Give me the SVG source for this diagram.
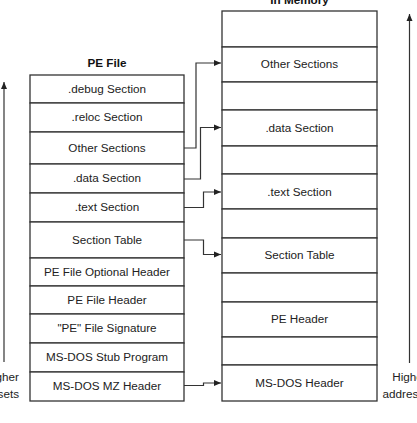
<svg xmlns="http://www.w3.org/2000/svg" width="417" height="423" viewBox="0 0 417 423">
<defs>
<style>
.box{fill:#fff;stroke:#333;stroke-width:1.3}
.t{font-family:"Liberation Sans",Arial,sans-serif;font-size:11.7px;fill:#222;text-anchor:middle}
.title{font-family:"Liberation Sans",Arial,sans-serif;font-size:11.7px;font-weight:bold;fill:#111;text-anchor:middle}
.c{fill:none;stroke:#333;stroke-width:1.2}
</style>
<marker id="ah" markerWidth="8" markerHeight="8" refX="7" refY="4" orient="auto" markerUnits="userSpaceOnUse">
<path d="M0,1 L7,4 L0,7 Z" fill="#222"/>
</marker>
</defs>
<rect width="417" height="423" fill="#fff"/>
<text class="title" x="107" y="67">PE File</text>
<text class="title" x="299.5" y="4">In Memory</text>
<g id="pe-file">
<g id="l-debug"><rect class="box" x="30" y="75" width="154" height="28"/><text class="t" x="107" y="92.5">.debug Section</text></g>
<g id="l-reloc"><rect class="box" x="30" y="103" width="154" height="29"/><text class="t" x="107" y="121">.reloc Section</text></g>
<g id="l-other"><rect class="box" x="30" y="132" width="154" height="32"/><text class="t" x="107" y="151.5">Other Sections</text></g>
<g id="l-data"><rect class="box" x="30" y="164" width="154" height="29"/><text class="t" x="107" y="182">.data Section</text></g>
<g id="l-text"><rect class="box" x="30" y="193" width="154" height="29"/><text class="t" x="107" y="211">.text Section</text></g>
<g id="l-sectab"><rect class="box" x="30" y="222" width="154" height="36"/><text class="t" x="107" y="243.5">Section Table</text></g>
<g id="l-opt"><rect class="box" x="30" y="258" width="154" height="28"/><text class="t" x="107" y="275.5">PE File Optional Header</text></g>
<g id="l-pehdr"><rect class="box" x="30" y="286" width="154" height="28"/><text class="t" x="107" y="303.5">PE File Header</text></g>
<g id="l-sig"><rect class="box" x="30" y="314" width="154" height="29"/><text class="t" x="107" y="332">"PE" File Signature</text></g>
<g id="l-stub"><rect class="box" x="30" y="343" width="154" height="29"/><text class="t" x="107" y="361">MS-DOS Stub Program</text></g>
<g id="l-mz"><rect class="box" x="30" y="372" width="154" height="29"/><text class="t" x="107" y="390">MS-DOS MZ Header</text></g>
</g>
<g id="in-memory">
<g id="r-e1"><rect class="box" x="222" y="11" width="155" height="36"/></g>
<g id="r-other"><rect class="box" x="222" y="47" width="155" height="35"/><text class="t" x="299.5" y="68">Other Sections</text></g>
<g id="r-e2"><rect class="box" x="222" y="82" width="155" height="28"/></g>
<g id="r-data"><rect class="box" x="222" y="110" width="155" height="36"/><text class="t" x="299.5" y="131.5">.data Section</text></g>
<g id="r-e3"><rect class="box" x="222" y="146" width="155" height="28"/></g>
<g id="r-text"><rect class="box" x="222" y="174" width="155" height="35"/><text class="t" x="299.5" y="195.5">.text Section</text></g>
<g id="r-e4"><rect class="box" x="222" y="209" width="155" height="29"/></g>
<g id="r-sectab"><rect class="box" x="222" y="238" width="155" height="35"/><text class="t" x="299.5" y="259">Section Table</text></g>
<g id="r-e5"><rect class="box" x="222" y="273" width="155" height="29"/></g>
<g id="r-pehdr"><rect class="box" x="222" y="302" width="155" height="35"/><text class="t" x="299.5" y="323">PE Header</text></g>
<g id="r-e6"><rect class="box" x="222" y="337" width="155" height="28"/></g>
<g id="r-mz"><rect class="box" x="222" y="365" width="155" height="36"/><text class="t" x="299.5" y="386.5">MS-DOS Header</text></g>
</g>
<g id="connectors">
<path class="c" d="M184,148 H196 V63 H221" marker-end="url(#ah)"/>
<path class="c" d="M184,179 H200.5 V127.5 H221" marker-end="url(#ah)"/>
<path class="c" d="M184,207.5 H203.5 V192 H221" marker-end="url(#ah)"/>
<path class="c" d="M184,240 H203.5 V254.5 H221" marker-end="url(#ah)"/>
<path class="c" d="M184,385.5 H203.5 V383 H221" marker-end="url(#ah)"/>
<path class="c" d="M4,362 V82" marker-end="url(#ah)"/>
<path class="c" d="M409.5,363 V14" marker-end="url(#ah)"/>
</g>
<g id="labels">
<text class="t" x="19" y="381" style="text-anchor:end">Higher</text>
<text class="t" x="19" y="398" style="text-anchor:end">offsets</text>
<text class="t" x="409.5" y="381">Higher</text>
<text class="t" x="409.5" y="398">addresses</text>
</g>
</svg>
